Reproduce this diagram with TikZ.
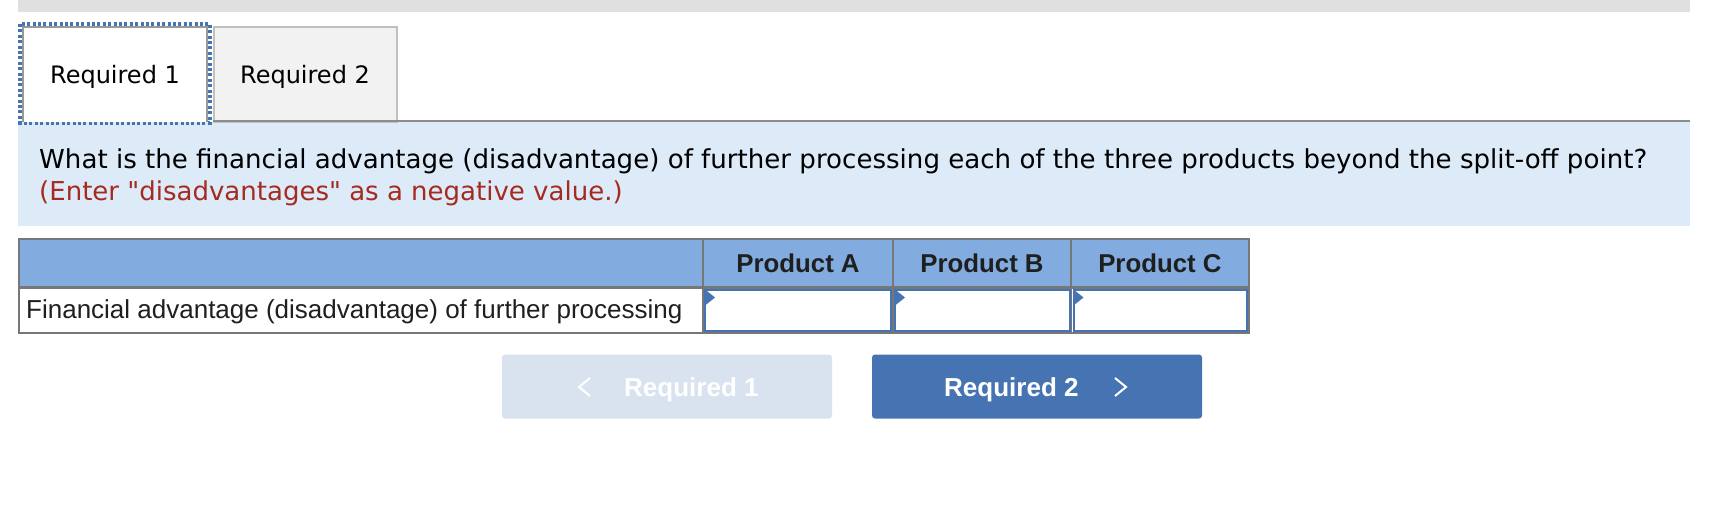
\documentclass[tikz,border=0pt]{standalone}
\usepackage{fontspec}
\setmainfont{DejaVu Sans}
\newfontfamily\hintfont{DejaVu Sans}
\newfontfamily\tablefont{Liberation Sans}
\usetikzlibrary{positioning}
\definecolor{barclr}{HTML}{E0E0E0}
\definecolor{panelclr}{HTML}{DDEAF8}
\definecolor{headclr}{HTML}{82ACDF}
\definecolor{lineclr}{HTML}{777777}
\definecolor{btnclr}{HTML}{4674B3}
\definecolor{btnoffclr}{HTML}{D9E3EF}
\definecolor{hintclr}{HTML}{A52A20}
\definecolor{tabclr}{HTML}{F2F2F2}
\definecolor{tabedge}{HTML}{C0C0C0}
\tikzset{
  box/.style={rectangle,anchor=north west,inner sep=0pt,outer sep=0pt},
  tabbox/.style={box,line width=2pt,minimum height=95pt,text height=18pt,text depth=0pt,font=\fontsize{24}{28}\selectfont},
  headcell/.style={box,draw=lineclr,fill=headclr,line width=2.4pt,minimum height=48.3pt,text height=17.5pt,text depth=0pt,text=black!88,font=\tablefont\bfseries\fontsize{25.8}{30}\selectfont},
  rowcell/.style={box,draw=lineclr,fill=white,line width=2.4pt,minimum height=45.3pt},
  inputcell/.style={box,draw=btnclr,fill=white,line width=2pt,minimum height=41.5pt},
  btnbox/.style={box,rounded corners=3pt,minimum width=330pt,minimum height=64pt},
  btnlabel/.style={anchor=base west,inner sep=0pt,text=white,font=\tablefont\bfseries\fontsize{26}{30}\selectfont},
  textline/.style={anchor=base west,inner sep=0pt}
}
\begin{document}
\begin{tikzpicture}[x=1pt,y=-1pt]
  \useasboundingbox (0,0) rectangle (1726,514);
  % top bar and question panel
  \node[box,fill=barclr,minimum width=1672pt,minimum height=12pt] (topbar) at (18,0) {};
  \node[box,fill=panelclr,minimum width=1672pt,minimum height=104pt] (panel) at (18,122) {};
  % tabs, the first one has a dotted focus frame and no bottom edge
  \begin{scope}
    \clip (18,22) rectangle (212,124);
    \draw[line width=4pt,draw=btnclr,dash pattern=on 3pt off 2.4pt] (20,24) rectangle (210,122.6);
  \end{scope}
  \node[box,fill=white,minimum width=184pt,minimum height=95pt,text height=18pt,text depth=0pt,font=\fontsize{24}{28}\selectfont] (tabone) at (23,27) {Required 1};
  \draw[line width=2pt,draw=black!40] (tabone.south west) -- (tabone.north west) -- (tabone.north east) -- (tabone.south east);
  \node[tabbox,draw=tabedge,fill=tabclr,minimum width=183pt] (tabtwo) at (213.5,27) {Required 2};
  \coordinate (ruleend) at (1690,121);
  \draw[line width=2pt,draw=black!45] (212.5,121) -- (ruleend);
  % question text
  \node[textline,font=\fontsize{26.08}{30}\selectfont] (question) at (39,168) {What is the financial advantage (disadvantage) of further processing each of the three products beyond the split-off point?};
  \node[textline,text=hintclr,font=\hintfont\fontsize{26}{30}\selectfont] (hint) at (39,200) {(Enter "disadvantages" as a negative value.)};
  % table
  \node[headcell,minimum width=683.8pt] (headlabel) at (19.2,239.2) {};
  \node[headcell,minimum width=190pt,right=0pt of headlabel] (heada) {Product A};
  \node[headcell,minimum width=178pt,right=0pt of heada] (headb) {Product B};
  \node[headcell,minimum width=177.8pt,right=0pt of headb] (headc) {Product C};
  \node[rowcell,minimum width=683.8pt,below=0pt of headlabel] (rowlabel) {};
  \node[rowcell,minimum width=190pt,below=0pt of heada] (rowa) {};
  \node[rowcell,minimum width=178pt,below=0pt of headb] (rowb) {};
  \node[rowcell,minimum width=177.8pt,below=0pt of headc] (rowc) {};
  \node[textline,text=black!88,font=\tablefont\fontsize{26}{30}\selectfont] (rowtext) at (26,318) {Financial advantage (disadvantage) of further processing};
  \node[inputcell,minimum width=186pt] (inputa) at (705,289.5) {};
  \node[inputcell,minimum width=174.5pt] (inputb) at (895,289.5) {};
  \node[inputcell,minimum width=173.5pt] (inputc) at (1073.5,289.5) {};
  \foreach \cell in {inputa,inputb,inputc}
    \fill[btnclr] (\cell.north west) -- ++(10,8) -- ++(-10,8) -- cycle;
  % buttons
  \node[btnbox,fill=btnoffclr] (btnback) at (502,354.5) {};
  \node[btnbox,fill=btnclr] (btnnext) at (872,354.5) {};
  \node[btnlabel] (backlabel) at (624,396) {Required 1};
  \node[btnlabel] (nextlabel) at (944,396) {Required 2};
  \draw[white,line width=2pt] (590,378) -- (579,387) -- (590,396);
  \draw[white,line width=2pt] (1115,378) -- (1126,387) -- (1115,396);
\end{tikzpicture}
\end{document}
